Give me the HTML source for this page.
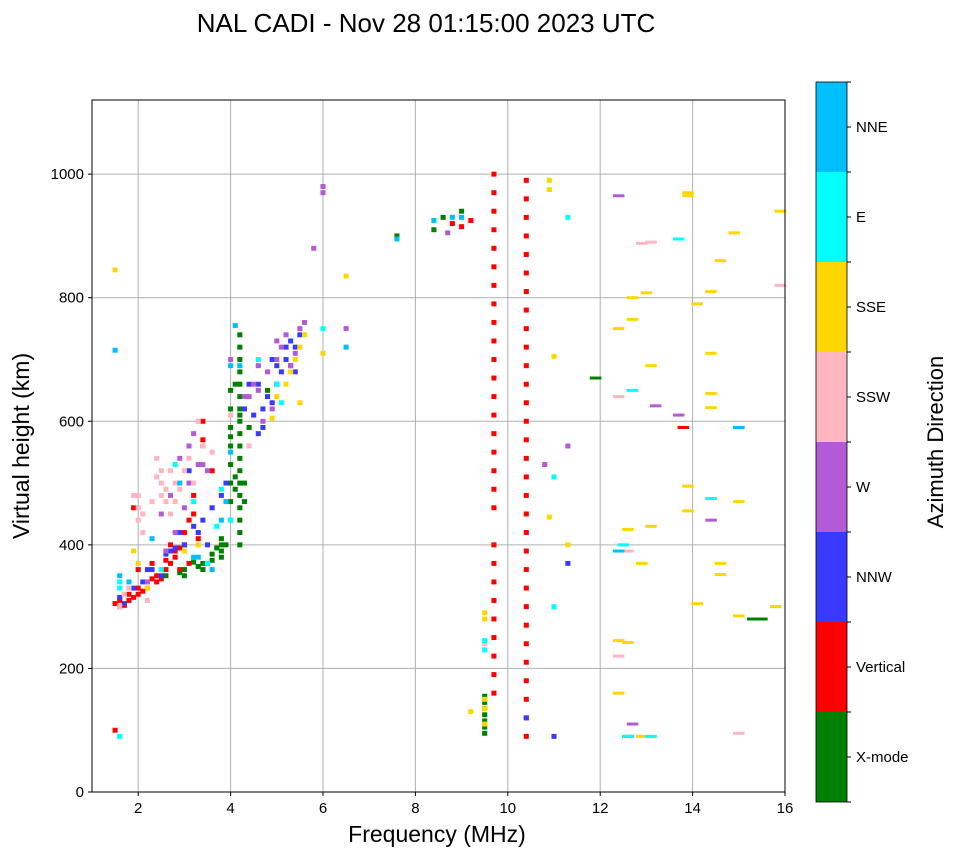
<!DOCTYPE html>
<html><head><meta charset="utf-8"><style>
body{margin:0;background:#fff;font-family:"Liberation Sans",sans-serif}
svg text{font-family:"Liberation Sans",sans-serif}
</style></head><body>
<svg id="chart" width="958" height="857">
<text x="426" y="32" font-size="26" text-anchor="middle">NAL CADI - Nov 28 01:15:00 2023 UTC</text>
<g id="grid"></g>
<g id="marks"></g>
<rect x="92" y="100" width="693" height="692" fill="none" stroke="#000" stroke-width="1"/>
<g id="axes"></g>
<text x="437" y="842" font-size="23" text-anchor="middle">Frequency (MHz)</text>
<text transform="translate(29,446) rotate(-90)" font-size="23" text-anchor="middle">Virtual height (km)</text>
<g id="colorbar"></g>
<text transform="translate(943,442) rotate(-90)" font-size="22" text-anchor="middle">Azimuth Direction</text>
</svg>
<script>
const xTicks=[2,4,6,8,10,12,14,16];
const yTicks=[0,200,400,600,800,1000];
const dirNames=["X-mode","Vertical","NNW","W","SSW","SSE","E","NNE"];
const dirColors=["#008000","#ff0000","#3a3aff","#b35bd6","#ffb6c1","#ffd700","#00ffff","#00bfff"];

const xmodeFreq=[9.5,9.5,9.5,9.5,9.5,9.5,9.5,4.2,4.2,4.2,4.2,4.2,4.2,4.2,4.2,4.2,4.2,4.2,4.2,4.2,4.2,4.2,4.2,4.2,4.2,4.0,4.0,4.0,4.0,4.0,4.0,4.0,4.0,3.8,3.8,3.8,3.8,3.6,3.6,3.4,3.4,3.0,3.0,2.6,4.4,8.6,8.4,9.0,11.9,12.6,15.5,15.3,7.6,4.8,4.1,4.1,4.3,4.3,3.9,3.7,3.5,4.0,4.2,4.1,3.3,2.9,3.2];
const xmodeHeight=[95,105,115,125,135,145,155,400,420,440,460,480,500,520,540,560,580,600,620,640,660,680,700,720,740,440,470,500,530,560,590,620,650,380,390,400,410,375,385,360,370,350,360,350,590,930,910,940,670,90,280,280,900,650,490,510,470,500,400,395,370,575,610,660,365,355,372];
const vertFreq=[10.4,10.4,10.4,10.4,10.4,10.4,10.4,10.4,10.4,10.4,10.4,10.4,10.4,10.4,10.4,10.4,10.4,10.4,10.4,10.4,10.4,10.4,10.4,10.4,10.4,10.4,10.4,10.4,10.4,10.4,10.4,9.7,9.7,9.7,9.7,9.7,9.7,9.7,9.7,9.7,9.7,9.7,9.7,9.7,9.7,9.7,9.7,9.7,9.7,9.7,9.7,9.7,9.7,9.7,9.7,9.7,9.7,9.7,9.7,1.6,1.6,1.8,1.8,2.0,2.0,2.2,2.4,2.4,2.6,2.8,2.8,3.0,3.0,3.2,3.2,3.4,3.4,3.6,2.9,3.1,1.5,8.8,9.0,9.2,13.8,1.9,2.3,1.7,1.9,2.1,2.5,2.7,2.9,3.3,1.5,2.3,2.6,3.1,2.7,2.0,3.4];
const vertHeight=[90,120,150,180,210,240,270,300,330,360,390,420,450,480,510,540,570,600,630,660,690,720,750,780,810,840,870,900,930,960,990,460,490,520,550,580,610,640,670,700,730,760,790,820,850,880,910,940,970,1000,400,370,340,310,280,250,220,190,160,310,300,310,320,320,330,330,340,350,360,380,390,400,420,450,480,560,600,520,360,370,100,920,915,925,590,460,370,302,315,325,345,370,395,410,305,345,375,440,400,360,570];
const nnwFreq=[1.7,2.1,2.5,2.7,3.3,3.1,3.6,4.5,4.8,5.0,5.2,5.4,4.6,5.1,3.9,11.3,15.0,11.0,10.4,4.7,4.9,5.3,5.5,4.4,3.0,2.3,1.6,1.9,2.2,2.6,2.8,3.2,3.4,3.8,4.3,4.6,4.9,5.0,5.2,5.4,5.3,4.7,3.5,2.9];
const nnwHeight=[305,340,350,390,420,520,460,610,640,660,700,720,580,680,500,370,590,90,120,620,700,690,740,660,400,360,315,330,360,385,395,430,440,480,620,660,630,690,720,680,730,590,400,420];
const wFreq=[4.4,4.7,5.0,5.3,5.5,4.9,5.2,3.2,2.9,3.5,6.5,6.0,6.0,8.7,12.4,13.2,13.7,12.7,11.3,14.4,10.8,4.6,2.7,5.8,4.5,5.1,3.1,2.6,2.8,3.0,3.1,3.3,4.8,5.0,5.4,5.6,4.6,4.3,4.0,3.4,2.5,2.2];
const wHeight=[640,600,700,690,750,620,740,580,540,520,750,970,980,905,965,625,610,110,560,440,530,690,480,880,660,720,560,390,420,460,500,530,680,730,710,760,650,640,700,530,450,340];
const sswFreq=[2.0,2.0,2.0,2.1,2.5,2.5,2.5,2.6,2.8,2.8,3.0,3.2,2.4,3.6,12.4,12.6,13.1,12.9,12.4,15.0,15.9,9.5,1.7,4.0,1.6,2.2,2.3,2.4,2.6,2.7,2.9,3.1,3.3,2.1,1.9,2.7,3.4,4.4,1.8];
const sswHeight=[440,460,480,450,480,500,520,490,470,500,520,500,540,550,640,390,890,888,220,95,820,240,320,610,300,310,470,510,470,520,490,540,600,420,480,450,560,560,330];
const sseFreq=[9.5,9.5,9.5,9.5,9.5,13.9,13.9,12.6,12.7,13.0,12.7,12.4,13.1,13.1,12.9,13.9,13.9,14.1,14.4,14.4,14.4,14.4,14.6,14.9,14.6,14.6,15.0,14.1,15.0,15.8,12.4,12.6,12.4,12.9,10.9,10.9,11.0,10.9,11.3,6.0,6.5,5.5,9.2,2.0,2.2,15.9,1.5,5.4,5.6,5.2,5.0,5.3,5.5,4.9,3.0,3.3,1.9];
const sseHeight=[280,290,110,135,150,965,970,425,800,808,765,750,690,430,370,495,455,790,810,710,645,622,860,905,370,352,470,305,285,300,245,242,160,90,990,975,705,445,400,710,835,630,130,370,330,940,845,700,740,660,640,680,720,605,390,400,390];
const eFreq=[1.6,1.6,9.5,9.5,11.0,11.0,11.3,12.5,12.7,13.7,14.4,12.6,13.1,6.0,3.5,1.6,3.8,2.8,4.0,3.7,5.1,5.0,4.6,3.2,2.5];
const eHeight=[330,340,230,245,300,510,930,400,650,895,475,90,90,750,370,90,490,530,440,430,630,660,700,470,360];
const nneFreq=[1.5,8.8,8.4,4.1,12.4,15.0,7.6,6.5,3.3,1.6,2.3,3.6,4.2,9.0,4.0,3.8,3.2,1.8,2.9,4.0,3.9];
const nneHeight=[715,930,925,755,390,590,895,720,380,350,410,360,690,930,690,440,380,340,500,550,470];

const series=[[xmodeFreq,xmodeHeight],[vertFreq,vertHeight],[nnwFreq,nnwHeight],[wFreq,wHeight],[sswFreq,sswHeight],[sseFreq,sseHeight],[eFreq,eHeight],[nneFreq,nneHeight]];

const X0=92,X1=785,Y0=792,Y1=100,xmin=1,xmax=16,ymin=0,ymax=1120;
const sx=v=>X0+(v-xmin)/(xmax-xmin)*(X1-X0);
const sy=v=>Y0-(v-ymin)/(ymax-ymin)*(Y0-Y1);
const NS="http://www.w3.org/2000/svg";
function mk(tag,attrs,parent){const e=document.createElementNS(NS,tag);for(const k in attrs)e.setAttribute(k,attrs[k]);parent.appendChild(e);return e;}
const grid=document.getElementById('grid'),axes=document.getElementById('axes'),marks=document.getElementById('marks'),cb=document.getElementById('colorbar');
xTicks.forEach(t=>{
 const g=mk('line',{x1:sx(t),x2:sx(t),y1:Y1,y2:Y0,stroke:'#b0b0b0','stroke-width':1},grid);
 
 
 mk('line',{x1:sx(t),x2:sx(t),y1:Y0,y2:Y0+4,stroke:'#000'},axes);
 const tx=mk('text',{x:sx(t),y:Y0+21,'font-size':15,'text-anchor':'middle'},axes);
 tx.textContent=t;
 
 
});
yTicks.forEach(t=>{
 const g=mk('line',{x1:X0,x2:X1,y1:sy(t),y2:sy(t),stroke:'#b0b0b0','stroke-width':1},grid);
 
 
 mk('line',{x1:X0-4,x2:X0,y1:sy(t),y2:sy(t),stroke:'#000'},axes);
 const tx=mk('text',{x:X0-8,y:sy(t)+5,'font-size':15,'text-anchor':'end'},axes);
 tx.textContent=t;
 
 
});
series.forEach((s,i)=>{
 const [fs,hs]=s;
 fs.forEach((f,j)=>{
  const wide=f>11.5;
  const cw=wide?sx(1.25)-sx(1):sx(1.11)-sx(1);
  const ch=wide?3:sy(0)-sy(8);
  const r=mk('rect',{x:sx(f)-cw/2,y:sy(hs[j])-ch/2,width:cw,height:ch,fill:dirColors[i]},marks);
  
  
 });
});
const CBX=816,CBW=31,CBT=82,CBB=802,segH=(CBB-CBT)/dirNames.length;
dirNames.forEach((n,i)=>{
 const y=CBB-(i+1)*segH;
 const r=mk('rect',{x:CBX,y:y,width:CBW,height:segH,fill:dirColors[i]},cb);
 
 
 mk('line',{x1:CBX+CBW,x2:CBX+CBW+4,y1:y+segH/2,y2:y+segH/2,stroke:'#000'},cb);
 const tx=mk('text',{x:CBX+CBW+9,y:y+segH/2+5,'font-size':15},cb);
 tx.textContent=n;
 
 
});
for(let i=0;i<=dirNames.length;i++){const y=CBB-i*segH;mk('line',{x1:CBX+CBW,x2:CBX+CBW+4,y1:y,y2:y,stroke:'#000'},cb);}
mk('rect',{x:CBX,y:CBT,width:CBW,height:CBB-CBT,fill:'none',stroke:'#000','stroke-width':0.8},cb);
</script>
</body></html>
